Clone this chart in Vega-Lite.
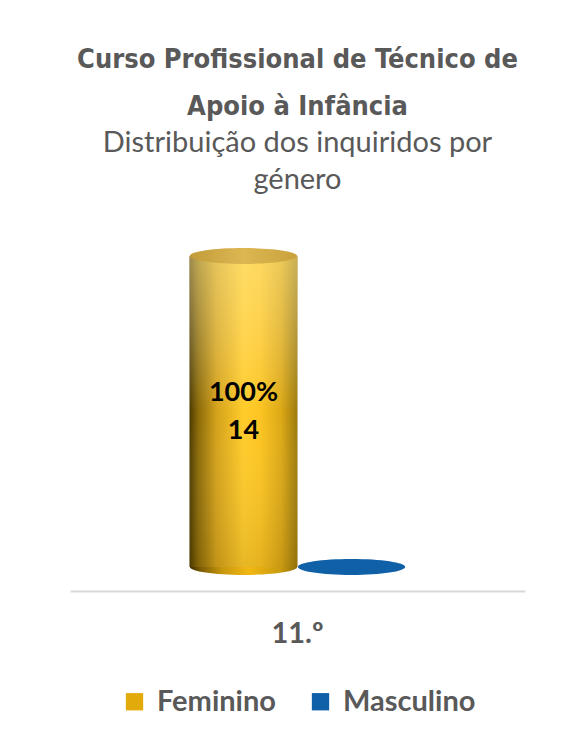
{
  "$schema": "https://vega.github.io/schema/vega-lite/v6.json",
  "width": 455,
  "height": 311,
  "padding": {"left": 70, "right": 51, "top": 46, "bottom": 20},
  "background": "white",
  "title": {
    "text": ["Curso Profissional de Técnico de", "Apoio à Infância"],
    "font": "DejaVu Sans Condensed",
    "fontWeight": "bold",
    "fontSize": 27,
    "lineHeight": 47,
    "color": "#595959",
    "anchor": "middle",
    "subtitle": ["Distribuição dos inquiridos por", "género"],
    "subtitleFont": "Lato",
    "subtitleFontSize": 29,
    "subtitleLineHeight": 37,
    "subtitleColor": "#595959",
    "subtitlePadding": 8,
    "offset": 52
  },
  "data": {
    "values": [
      {"ano": "11.º", "genero": "Feminino", "n": 14, "pct": "100%"},
      {"ano": "11.º", "genero": "Masculino", "n": 0, "pct": "0%"}
    ]
  },
  "encoding": {
    "x": {
      "field": "ano",
      "type": "nominal",
      "scale": {"paddingInner": 0, "paddingOuter": 0.553},
      "axis": {
        "title": null,
        "labelAngle": 0,
        "ticks": false,
        "domainColor": "#d9d9d9",
        "domainWidth": 2,
        "offset": 24,
        "labelFont": "Lato",
        "labelFontWeight": "bold",
        "labelFontSize": 29,
        "labelColor": "#595959",
        "labelPadding": 28
      }
    },
    "xOffset": {
      "field": "genero",
      "type": "nominal",
      "scale": {"paddingInner": 0, "paddingOuter": 0}
    }
  },
  "layer": [
    {
      "transform": [{"filter": "datum.genero === 'Masculino'"}],
      "mark": {
        "type": "point",
        "filled": true,
        "opacity": 1,
        "strokeWidth": 0,
        "shape": "M-1,0A1,0.148,0,1,0,1,0A1,0.148,0,1,0,-1,0Z",
        "size": 11500
      },
      "encoding": {
        "y": {"datum": 0, "type": "quantitative", "scale": {"domain": [0, 14]}, "axis": null},
        "color": {
          "field": "genero",
          "type": "nominal",
          "scale": {"domain": ["Feminino", "Masculino"], "range": ["#e3aa0c", "#1060a8"]},
          "legend": {
            "title": null,
            "orient": "bottom",
            "direction": "horizontal",
            "symbolType": "square",
            "symbolSize": 300,
            "symbolStrokeWidth": 0,
            "symbolOpacity": 1,
            "labelFont": "Lato",
            "labelFontWeight": "bold",
            "labelFontSize": 29,
            "labelColor": "#595959",
            "columnPadding": 30,
            "labelOffset": 8,
            "offset": 39
          }
        }
      }
    },
    {
      "transform": [{"filter": "datum.genero === 'Feminino'"}],
      "mark": {
        "type": "point",
        "filled": true,
        "opacity": 1,
        "strokeWidth": 0,
        "shape": "M-1,0A1,0.148,0,1,0,1,0A1,0.148,0,1,0,-1,0Z",
        "size": 11500,
        "fill": {
          "gradient": "linear", "x1": 0, "y1": 0, "x2": 1, "y2": 0,
          "stops": [
            {"offset": 0, "color": "#3d2e00"},
            {"offset": 0.1, "color": "#7a5c04"},
            {"offset": 0.3, "color": "#c8960f"},
            {"offset": 0.55, "color": "#f2b813"},
            {"offset": 0.85, "color": "#c99a10"},
            {"offset": 1, "color": "#8e6e08"}
          ]
        }
      },
      "encoding": {
        "y": {"datum": 0, "type": "quantitative"}
      }
    },
    {
      "transform": [{"filter": "datum.genero === 'Feminino'"}],
      "mark": {
        "type": "bar",
        "fill": {
          "gradient": "linear", "x1": 0, "y1": 0, "x2": 1, "y2": 0,
          "stops": [
            {"offset": 0, "color": "#4d3a00"},
            {"offset": 0.08, "color": "#8a6a08"},
            {"offset": 0.25, "color": "#d4a21a"},
            {"offset": 0.5, "color": "#ffcb2a"},
            {"offset": 0.65, "color": "#fdc522"},
            {"offset": 0.85, "color": "#dca815"},
            {"offset": 1, "color": "#9c7a0c"}
          ]
        }
      },
      "encoding": {
        "y": {"field": "n", "type": "quantitative"}
      }
    },
    {
      "transform": [{"filter": "datum.genero === 'Feminino'"}],
      "mark": {
        "type": "bar",
        "fill": {
          "gradient": "linear", "x1": 0, "y1": 0, "x2": 0, "y2": 1,
          "stops": [
            {"offset": 0, "color": "rgba(255,240,170,0.45)"},
            {"offset": 0.5, "color": "rgba(255,255,255,0)"},
            {"offset": 1, "color": "rgba(60,40,0,0.12)"}
          ]
        }
      },
      "encoding": {
        "y": {"field": "n", "type": "quantitative"}
      }
    },
    {
      "transform": [{"filter": "datum.genero === 'Feminino'"}],
      "mark": {
        "type": "point",
        "filled": true,
        "opacity": 1,
        "strokeWidth": 0,
        "shape": "M-1,0A1,0.148,0,1,0,1,0A1,0.148,0,1,0,-1,0Z",
        "size": 11500,
        "fill": {
          "gradient": "linear", "x1": 0, "y1": 0, "x2": 1, "y2": 0,
          "stops": [
            {"offset": 0, "color": "#c29b3a"},
            {"offset": 0.5, "color": "#dcb752"},
            {"offset": 1, "color": "#c9a23c"}
          ]
        }
      },
      "encoding": {
        "y": {"field": "n", "type": "quantitative"}
      }
    },
    {
      "transform": [{"filter": "datum.n > 0"}, {"calculate": "datum.n / 2", "as": "meio"}],
      "mark": {"type": "text", "font": "Lato", "fontWeight": "bold", "fontSize": 27, "color": "#000000", "dy": -19},
      "encoding": {
        "y": {"field": "meio", "type": "quantitative"},
        "text": {"field": "pct"}
      }
    },
    {
      "transform": [{"filter": "datum.n > 0"}, {"calculate": "datum.n / 2", "as": "meio"}],
      "mark": {"type": "text", "font": "Lato", "fontWeight": "bold", "fontSize": 27, "color": "#000000", "dy": 19},
      "encoding": {
        "y": {"field": "meio", "type": "quantitative"},
        "text": {"field": "n"}
      }
    }
  ],
  "config": {
    "view": {"stroke": null},
    "legend": {"layout": {"bottom": {"anchor": "middle"}}}
  }
}
